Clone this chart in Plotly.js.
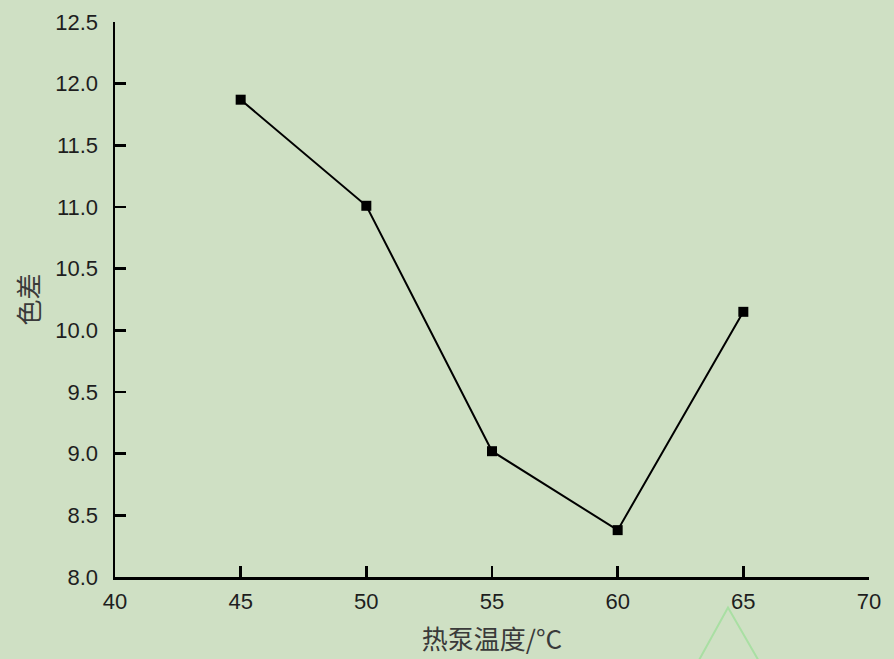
<!DOCTYPE html>
<html><head><meta charset="utf-8">
<script src="https://cdn.plot.ly/plotly-3.0.1.min.js"></script>
<style>html,body{margin:0;padding:0;background:#cfe0c4;}#chart{width:894px;height:659px;}</style>
</head><body><div id="chart"></div>
<script>
const temperatures = [45, 50, 55, 60, 65];
const colorDiff = [11.87, 11.01, 9.02, 8.38, 10.15];
const xTicks = [40, 45, 50, 55, 60, 65, 70];
const yTicks = [8.0, 8.5, 9.0, 9.5, 10.0, 10.5, 11.0, 11.5, 12.0, 12.5];

const trace = {
  x: temperatures, y: colorDiff, type: 'scatter', mode: 'lines+markers',
  line: {color: '#000', width: 2},
  marker: {symbol: 'square', size: 10, color: '#000'},
  cliponaxis: false
};
const fontFam = 'Liberation Sans, Arial, sans-serif';
const layout = {
  width: 894, height: 659,
  paper_bgcolor: '#cfe0c4', plot_bgcolor: '#cfe0c4',
  margin: {l: 115, r: 25, t: 22, b: 82},
  showlegend: false,
  font: {family: fontFam, color: '#1e1e1e', size: 22},
  xaxis: {
    range: [40, 70], tickvals: xTicks, ticktext: xTicks.map(String),
    tickfont: {size: 22, family: fontFam, color: '#1e1e1e'},
    showgrid: false, zeroline: false, showline: true, linecolor: '#000', linewidth: 2.5,
    ticks: 'inside', ticklen: 11, tickwidth: 2.5, tickcolor: '#000',
    ticklabelstandoff: 3,
    title: {text: '热泵温度/°C', font: {size: 26, family: 'Noto Sans CJK SC, sans-serif', color: '#3a3a3a'}, standoff: 18}
  },
  yaxis: {
    range: [8.0, 12.5], tickvals: yTicks, ticktext: yTicks.map(v => v.toFixed(1)),
    tickfont: {size: 22, family: fontFam, color: '#1e1e1e'},
    showgrid: false, zeroline: false, showline: true, linecolor: '#000', linewidth: 2.5,
    ticks: 'inside', ticklen: 11, tickwidth: 2.5, tickcolor: '#000',
    ticklabelstandoff: 10,
    title: {text: '色差', font: {size: 26, family: 'Noto Sans CJK SC, sans-serif', color: '#3a3a3a'}, standoff: 8}
  },
  shapes: [
    {type: 'path', xref: 'paper', yref: 'paper',
     path: 'M 0.746 -0.22 L 0.813 -0.055 L 0.883 -0.22',
     line: {color: '#a9dfa3', width: 2}, layer: 'above'}
  ]
};
Plotly.newPlot('chart', [trace], layout, {displayModeBar: false, staticPlot: true});
</script></body></html>
